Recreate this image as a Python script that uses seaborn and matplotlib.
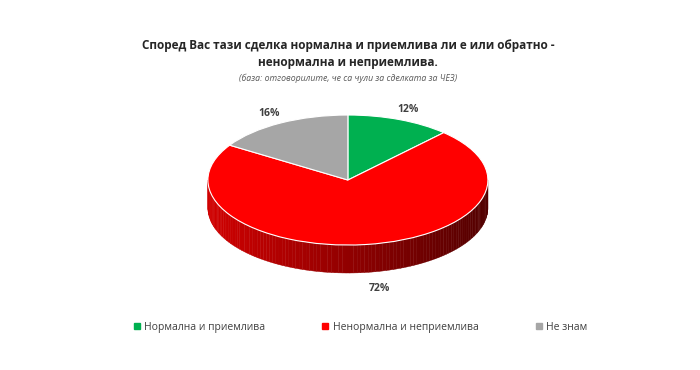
import numpy as np
import matplotlib
matplotlib.use("Agg")
import matplotlib.pyplot as plt
from matplotlib.patches import Polygon
from matplotlib.lines import Line2D
import seaborn as sns

# Data
categories = ["Нормална и приемлива", "Ненормална и неприемлива", "Не знам"]
shares = [12, 72, 16]
colors = ["#00b050", "#ff0000", "#a6a6a6"]

title = "Според Вас тази сделка нормална и приемлива ли е или обратно -\nненормална и неприемлива."
subtitle = "(база: отговорилите, че са чули за сделката за ЧЕЗ)"

sns.set_style("white")
plt.rcParams["font.family"] = ["Open Sans", "DejaVu Sans"]

fig = plt.figure(figsize=(7, 3.7), dpi=100)
ax = fig.add_axes([0.247, 0.162, 0.5, 0.615])

depth = 0.43  # thickness of the pie, in y units

wedges, texts, autotexts = ax.pie(
    shares, colors=colors, startangle=90, counterclock=False,
    autopct="%d%%", pctdistance=1.17,
    wedgeprops=dict(edgecolor="white", linewidth=0.8),
    textprops=dict(fontsize=7.5, fontweight="bold", color="#404040"),
)
ax.set_aspect("auto")
ax.set_xlim(-1.25, 1.25)
ax.set_ylim(-2.0, 1.5)
ax.axis("off")

# side wall of the pie (front half), shaded darker to the right
def wedge_color(ang):
    ang = ang % 360
    for w, c in zip(wedges, colors):
        t1, t2 = w.theta1 % 360, w.theta2 % 360
        if t1 <= t2:
            if t1 <= ang < t2:
                return c
        elif ang >= t1 or ang < t2:
            return c
    return colors[0]

steps = np.linspace(180, 360, 120)
for a0, a1 in zip(steps[:-1], steps[1:]):
    base = np.array(matplotlib.colors.to_rgb(wedge_color((a0 + a1) / 2)))
    frac = (np.cos(np.radians((a0 + a1) / 2)) + 1) / 2  # 0 left, 1 right
    shade = base * (0.82 - 0.5 * frac)
    r0, r1 = np.radians(a0), np.radians(a1)
    pts = [(np.cos(r0), np.sin(r0)), (np.cos(r1), np.sin(r1)),
           (np.cos(r1), np.sin(r1) - depth), (np.cos(r0), np.sin(r0) - depth)]
    ax.add_patch(Polygon(pts, closed=True, facecolor=shade, edgecolor=shade,
                         linewidth=0.3, zorder=0))

# labels below the pie sit under the wall
for t in autotexts:
    x, y = t.get_position()
    if y < 0:
        t.set_position((x + 0.08, y - depth - 0.08))

fig.text(0.497, 0.855, title, ha="center", va="center", fontsize=8.5,
         fontweight="bold", color="#262626", linespacing=1.4)
fig.text(0.497, 0.789, subtitle, ha="center", va="center", fontsize=6.3,
         style="italic", color="#595959")

handles = [Line2D([0], [0], marker="s", linestyle="", markersize=4,
                  markerfacecolor=c, markeredgecolor=c) for c in colors]
fig.legend(handles, categories, loc="center", bbox_to_anchor=(0.515, 0.115),
           ncol=3, frameon=False, fontsize=7.5, handlelength=0.6,
           handletextpad=0.4, columnspacing=5.5, labelcolor="#404040")

fig.savefig("out.png", dpi=100)
